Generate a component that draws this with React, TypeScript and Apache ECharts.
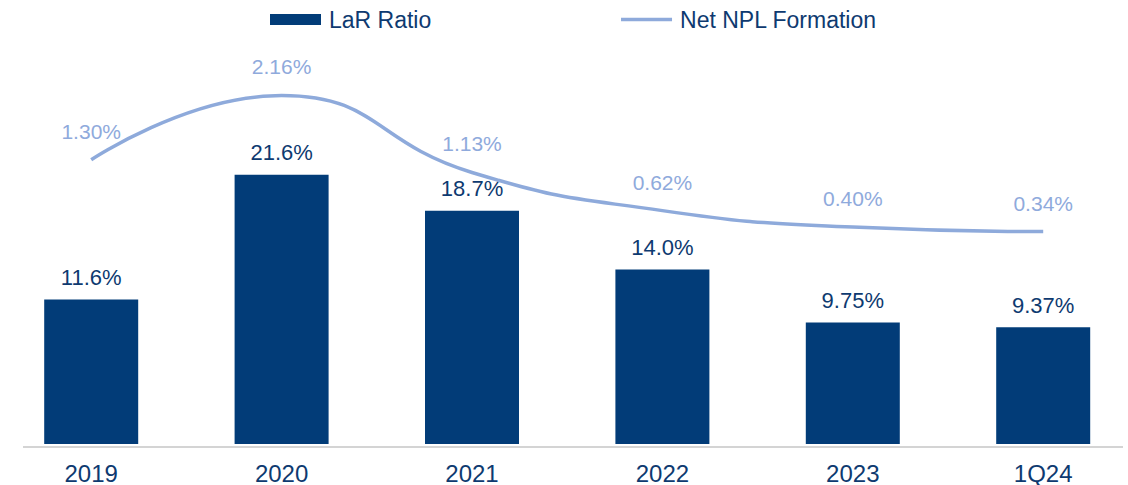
import React, { useEffect, useRef } from "react";
import * as echarts from "echarts";

const categories = ["2019", "2020", "2021", "2022", "2023", "1Q24"];
const larRatio = [11.6, 21.6, 18.7, 14.0, 9.75, 9.37];
const larLabels = ["11.6%", "21.6%", "18.7%", "14.0%", "9.75%", "9.37%"];
const nplFormation = [1.3, 2.16, 1.13, 0.62, 0.4, 0.34];
const nplLabels = ["1.30%", "2.16%", "1.13%", "0.62%", "0.40%", "0.34%"];

const NAVY = "#023C78";
const TEXT_NAVY = "#0E3A70";
const LIGHT = "#8EAADB";
const FONT = "'Liberation Sans', Arial, sans-serif";
const OFF = 10; // container shifted left by this many px

export default function App() {
  const ref = useRef<HTMLDivElement>(null);
  useEffect(() => {
    if (!ref.current) return;
    const chart = echarts.init(ref.current, null, { renderer: "svg" });
    chart.setOption({
      animation: false,
      textStyle: { fontFamily: FONT },
      legend: {
        left: 270 + OFF,
        top: 8,
        padding: 0,
        itemWidth: 51,
        itemHeight: 11,
        itemGap: 188,
        textStyle: { fontSize: 23, color: TEXT_NAVY, fontFamily: FONT, padding: [0, 0, 0, 3] },
        data: [
          { name: "LaR Ratio", icon: "rect" },
          {
            name: "Net NPL Formation",
            itemStyle: { color: "rgba(0,0,0,0)", borderColor: "rgba(0,0,0,0)", borderWidth: 0 },
            lineStyle: { color: LIGHT, width: 3.5 },
          },
        ],
      },
      grid: { left: OFF - 4, width: 1142.4, top: 70, bottom: 40, containLabel: false },
      xAxis: {
        type: "category",
        data: categories,
        axisLine: { show: false },
        axisTick: { show: false },
        axisLabel: { fontSize: 24, color: TEXT_NAVY, margin: 17, fontFamily: FONT },
      },
      yAxis: [
        { type: "value", min: 0, max: 30, show: false, splitLine: { show: false } },
        { type: "value", min: -2.5, max: 2.5, show: false, splitLine: { show: false } },
      ],
      graphic: [
        {
          type: "line",
          shape: { x1: 23 + OFF, y1: 447, x2: 1123 + OFF, y2: 447 },
          style: { stroke: "#D4D4D4", lineWidth: 2 },
          z: 10,
        },
      ],
      series: [
        {
          name: "LaR Ratio",
          type: "bar",
          yAxisIndex: 0,
          data: larRatio,
          barWidth: 94,
          itemStyle: { color: NAVY },
          label: {
            show: true,
            position: "top",
            distance: 11,
            fontSize: 22,
            color: TEXT_NAVY,
            fontFamily: FONT,
            formatter: (p: any) => larLabels[p.dataIndex],
          },
        },
        {
          name: "Net NPL Formation",
          type: "line",
          yAxisIndex: 1,
          data: nplFormation,
          smooth: true,
          symbol: "circle",
          symbolSize: 0.01,
          showSymbol: true,
          clip: false,
          lineStyle: { color: LIGHT, width: 3.5 },
          itemStyle: { color: LIGHT },
          label: {
            show: true,
            position: "top",
            distance: 18,
            fontSize: 21,
            color: "#8FAADC",
            fontFamily: FONT,
            formatter: (p: any) => nplLabels[p.dataIndex],
          },
          z: 5,
        },
      ],
    });
    return () => chart.dispose();
  }, []);
  return (
    <div
      ref={ref}
      style={{ position: "fixed", left: -OFF, top: 0, width: 1160, height: 485, background: "#fff" }}
    />
  );
}
